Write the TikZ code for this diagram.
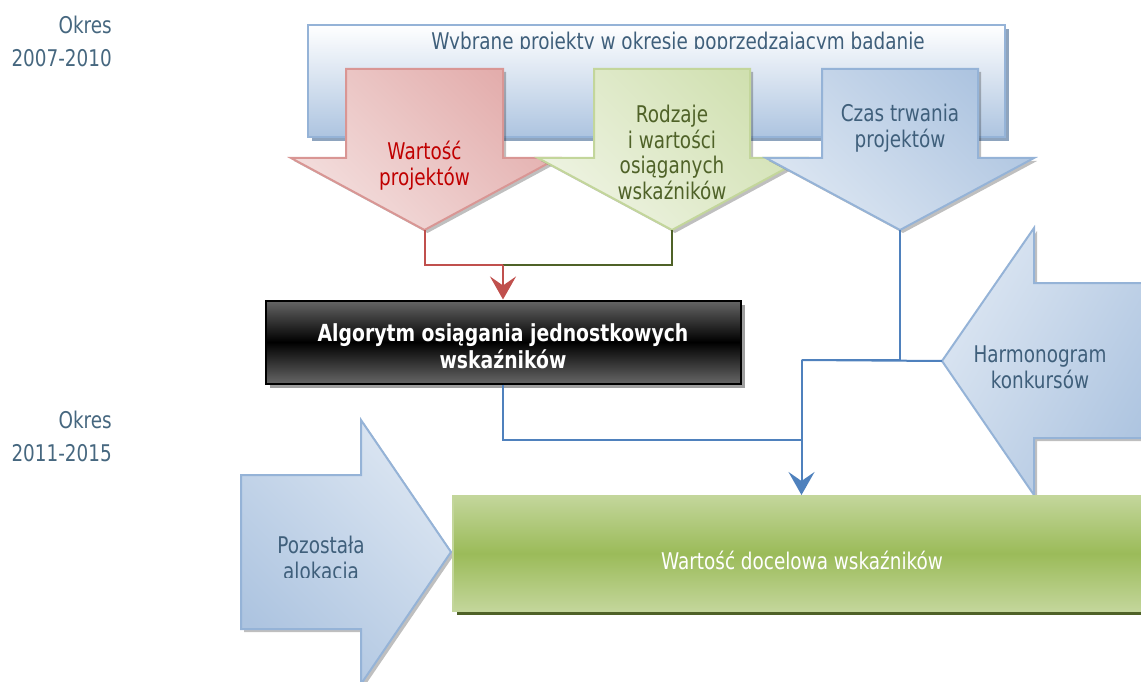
\documentclass[tikz,border=0pt]{standalone}
\usepackage{fontspec}
\setmainfont{DejaVu Sans}[FakeStretch=0.8]
\usetikzlibrary{positioning, calc, arrows.meta, shadows}

\definecolor{periodgrey}{HTML}{46677F}
\definecolor{topshadow}{HTML}{8EA4BE}
\definecolor{redfillA}{HTML}{F3DEDD}
\definecolor{redfillB}{HTML}{E3ADAC}
\definecolor{rededge}{HTML}{D99694}
\definecolor{redtext}{HTML}{C00000}
\definecolor{redline}{HTML}{C0504D}
\definecolor{greenfillA}{HTML}{EEF3E2}
\definecolor{greenfillB}{HTML}{D0E0B0}
\definecolor{greenedge}{HTML}{C3D69B}
\definecolor{greentext}{HTML}{4F6228}
\definecolor{bluefillA}{HTML}{DCE6F2}
\definecolor{bluefillB}{HTML}{ADC4E0}
\definecolor{blueedge}{HTML}{95B3D7}
\definecolor{bluetext}{HTML}{3F5F7B}
\definecolor{blueline}{HTML}{4F81BD}
\definecolor{algogray}{HTML}{666666}
\definecolor{targetmid}{HTML}{9BBB59}

\begin{document}
\begin{tikzpicture}[x=1pt, y=-1pt, >={Stealth[length=23pt, width=26pt, inset=9pt]},
	every node/.style={inner sep=0pt, align=center, font=\fontsize{23}{25.5}\selectfont},
	period/.style={text=periodgrey, align=right, anchor=north east, font=\fontsize{23}{33}\selectfont},
	panel/.style={line width=2pt, drop shadow={shadow xshift=4pt, shadow yshift=-4pt, fill=#1, opacity=1}},
	arrowshape/.style={line width=2pt, drop shadow={shadow xshift=3pt, shadow yshift=-3pt, fill=black, opacity=0.25}},
	link/.style={line width=2pt}]
	\clip (0,0) rectangle (1141,682);
	\node[period] (p1) at (112,16) {Okres\\2007-2010};
	\node[period] (p2) at (112,411) {Okres\\2011-2015};

	\draw[panel=topshadow, draw=blueedge, top color=white, bottom color=bluefillB] (308,25) rectangle (1005,137);
	\begin{scope}
		\clip (308,25) rectangle (1005,48.5);
		\node[text=bluetext, anchor=base] (study) at (678,50) {Wybrane projekty w okresie poprzedzającym badanie};
	\end{scope}

	\draw[arrowshape, draw=rededge, left color=redfillB, right color=redfillA, shading angle=-45]
		(346,69) -- (503,69) -- (503,158) -- (558,158) -- (424.5,230) coordinate (redtip) -- (291,158) -- (346,158) -- cycle;
	\draw[arrowshape, draw=greenedge, left color=greenfillB, right color=greenfillA, shading angle=-45]
		(594,69) -- (750,69) -- (750,158) -- (805,158) -- (672,230) coordinate (greentip) -- (538,158) -- (594,158) -- cycle;
	\draw[arrowshape, draw=blueedge, left color=bluefillB, right color=bluefillA, shading angle=-45]
		(822,69) -- (978,69) -- (978,158) -- (1034,158) -- (900,230) coordinate (bluetip) -- (766,158) -- (822,158) -- cycle;
	\node[text=redtext, anchor=north] (worth) at (424.5,141) {Wartość\\projektów};
	\node[text=greentext, anchor=north] (kinds) at (672,105) {Rodzaje\\i wartości\\osiąganych\\wskaźników};
	\node[text=bluetext, anchor=north] (duration) at (900,104) {Czas trwania\\projektów};

	\node[panel=gray!75, draw=black, line width=2pt, top color=algogray, bottom color=algogray, middle color=black,
		minimum width=475pt, minimum height=83pt, text=white, font=\fontsize{23.5}{27}\selectfont\bfseries] (algo) at (503,342)
		{\rule{0pt}{27pt}Algorytm osiągania jednostkowych\\wskaźników};

	\draw[arrowshape, draw=blueedge, left color=bluefillA, right color=bluefillB, shading angle=60]
		(942,361) coordinate (harmtip) -- (1034,228) -- (1034,283) -- (1160,283) -- (1160,438) -- (1034,438) -- (1034,495) -- cycle;
	\node[text=bluetext, anchor=north] (schedule) at (1040,346) {Harmonogram\\konkursów};

	\draw[arrowshape, draw=blueedge, left color=bluefillB, right color=bluefillA, shading angle=135]
		(241,475) -- (361,475) -- (361,420) -- (451,552) coordinate (resttip) -- (361,684) -- (361,629) -- (241,629) -- cycle;
	\begin{scope}
		\clip (230,400) rectangle (460,577);
		\node[text=bluetext, anchor=north] (rest) at (321,536) {Pozostała\\alokacja};
	\end{scope}

	\node[panel=greentext, draw=greenedge, line width=2pt, top color=greenedge, bottom color=greenedge, middle color=targetmid,
		minimum width=697pt, minimum height=115pt] (target) at (801.5,553.5) {};
	\node[text=white, anchor=base] (targettext) at (802,569) {Wartość docelowa wskaźników};

	\coordinate (merge) at (503,265);
	\coordinate (hub) at (801.5,360);
	\coordinate (join) at (801.5,440);
	\draw[link, redline] (redtip) |- (merge);
	\draw[link, greentext] (greentip) |- (merge);
	\draw[link, redline, ->] (merge) -- (algo.north);
	\draw[link, blueline] (bluetip) |- (hub);
	\draw[link, blueline] (harmtip) -- (hub);
	\draw[link, blueline] (algo.south) |- (join);
	\draw[link, blueline, ->] (hub) -- (target.north);
\end{tikzpicture}
\end{document}
